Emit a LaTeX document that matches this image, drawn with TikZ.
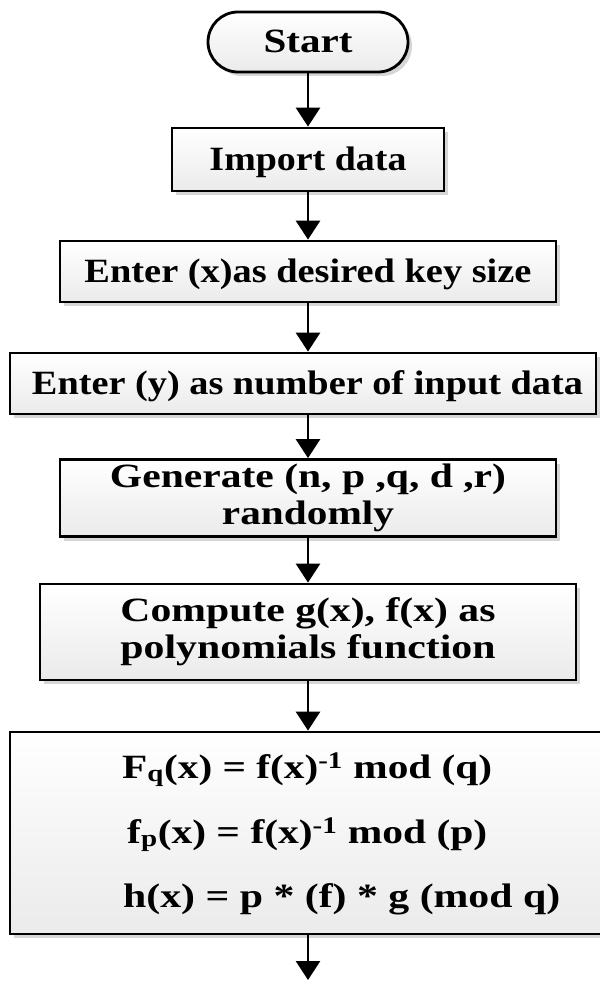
\documentclass[tikz,border=0pt]{standalone}
\usepackage{fontspec}
\usepackage{graphicx}
\setmainfont{Liberation Serif}
\usetikzlibrary{arrows.meta,shadows,calc}
\newcommand{\hfit}[2]{\resizebox{#1pt}{\height}{#2}}
\begin{document}
\begin{tikzpicture}[x=1pt,y=-1pt,
  base/.style={draw=black,line width=2.8pt,top color=white,bottom color=black!8,
    drop shadow={shadow xshift=4pt,shadow yshift=-4pt,fill=black!16,opacity=1},
    inner sep=0pt,font=\fontsize{34}{37}\selectfont\bfseries},
  onebox/.style={base,rectangle,text height=22pt,text depth=0pt},
  twobox/.style={base,rectangle,align=center},
  term/.style={base,rectangle,rounded corners=30pt,text height=22pt,text depth=0pt},
  txt/.style={font=\fontsize{34}{37}\selectfont\bfseries,inner sep=0pt,anchor=base west},
  arr/.style={line width=2.8pt,-{Triangle[length=19pt,width=24pt]}}]
\useasboundingbox (0,0) rectangle (599,981);
\fill[white] (0,0) rectangle (599,981);

\node[term,minimum width=200pt,minimum height=60pt] (start) at (308,42) {\hfit{89}{Start}};
\node[onebox,minimum width=272pt,minimum height=63pt] (imp) at (308,159.5) {\hfit{197}{Import data}};
\node[onebox,minimum width=496pt,minimum height=61pt] (entx) at (308,271.5) {\hfit{447}{Enter (x)as desired key size}};
\node[onebox,minimum width=586pt,minimum height=61pt] (enty) at (303,383.5) {\hspace*{9pt}\hfit{551}{Enter (y) as number of input data}};
\node[twobox,minimum width=496pt,minimum height=77pt] (gen) at (308,498) {\hfit{396}{Generate (n, p ,q, d ,r)}\\\hfit{172}{randomly}};
\node[twobox,minimum width=536pt,minimum height=96pt] (comp) at (308,632) {\hfit{375}{Compute g(x), f(x) as}\\\hfit{375}{polynomials function}};
\node[base,rectangle,minimum width=596pt,minimum height=202pt] (keys) at (308,833) {};
\node[txt] (l1) at (122,778) {\hfit{370}{F\textsubscript{q}(x) = f(x)\textsuperscript{-1} mod (q)}};
\node[txt] (l2) at (127,843) {\hfit{360}{f\textsubscript{p}(x) = f(x)\textsuperscript{-1} mod (p)}};
\node[txt] (l3) at (123,907) {\hfit{437}{h(x) = p * (f) * g (mod q)}};

\draw[arr] (start) -- (imp);
\draw[arr] (imp) -- (entx);
\draw[arr] (entx) -- (entx |- enty.north);
\draw[arr] (enty.south -| gen) -- (gen);
\draw[arr] (gen) -- (comp);
\draw[arr] (comp) -- (keys);
\coordinate (end) at (308,980);
\draw[arr] (keys) -- (end);
\end{tikzpicture}
\end{document}
